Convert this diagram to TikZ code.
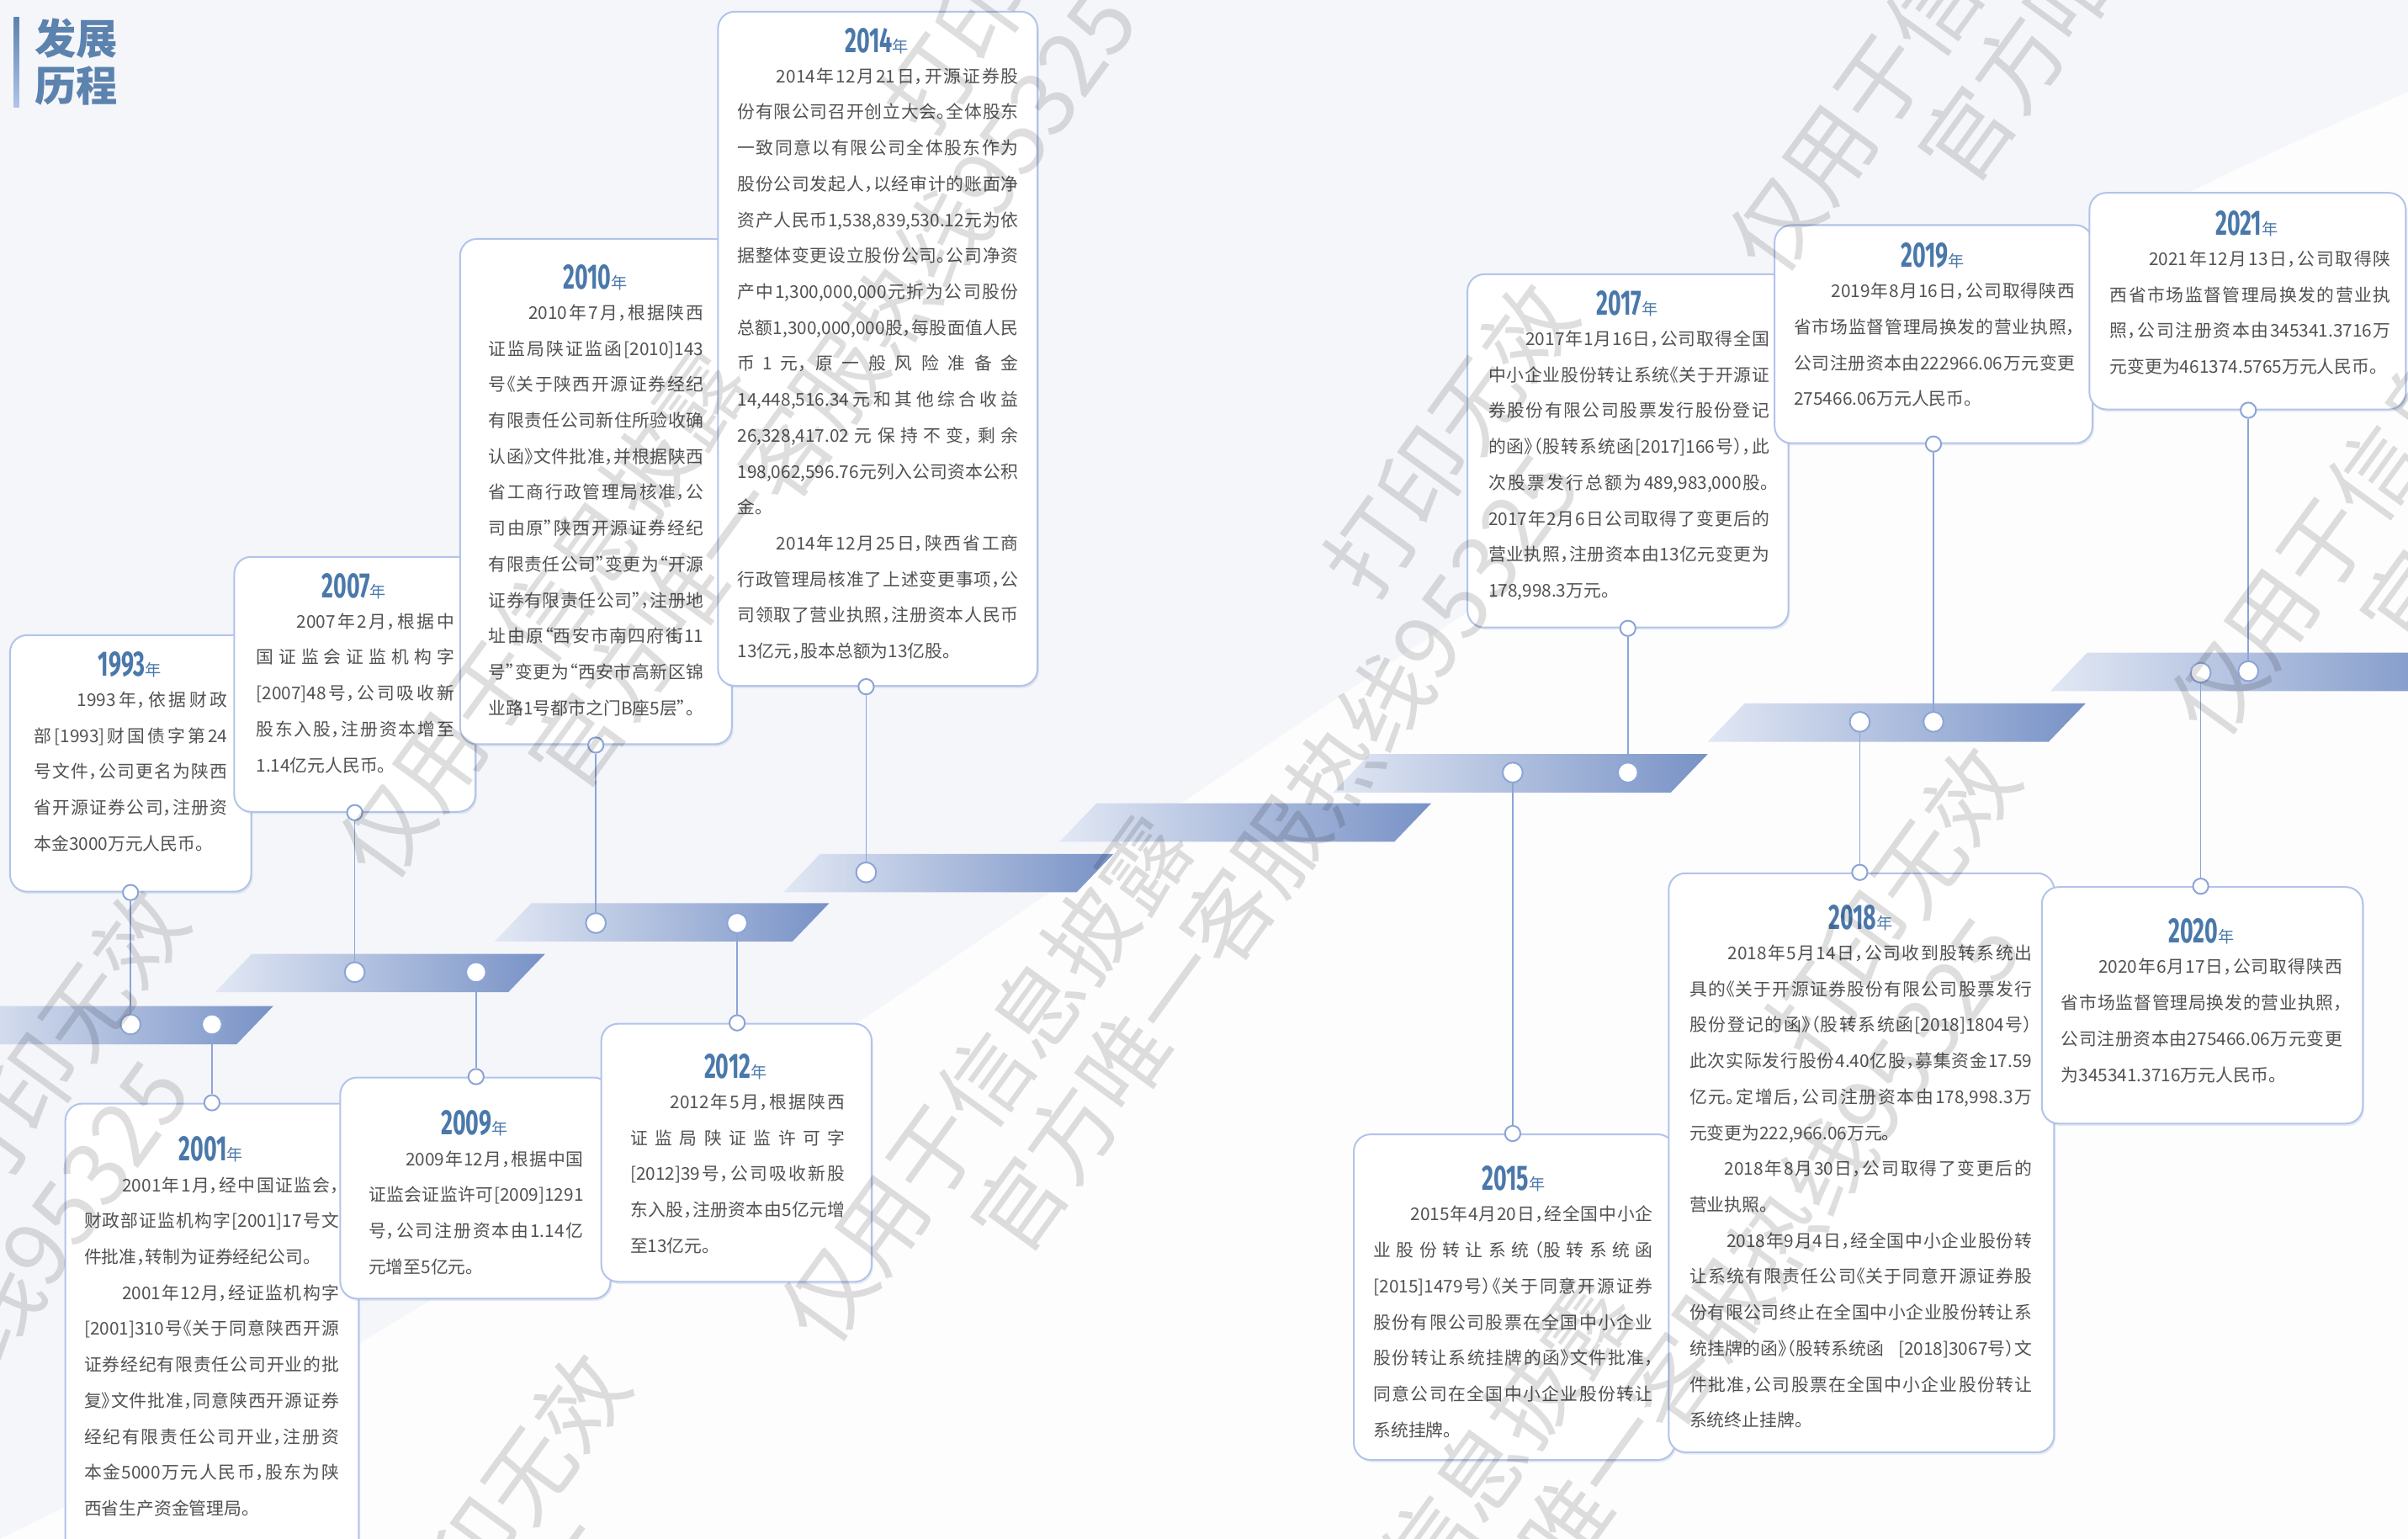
\documentclass[tikz,border=0pt]{standalone}
\usepackage{fontspec}
\setmainfont[RawFeature=+halt]{Noto Sans CJK SC}
\newfontfamily\yearfont[FakeStretch=0.64]{Fira Sans}
\newfontfamily\markfont{Noto Sans CJK SC}
\usetikzlibrary{shadows}
\XeTeXlinebreaklocale "zh"
\XeTeXlinebreakskip=0pt plus 3pt minus 1pt
\setlength\parindent{0pt}
\tolerance=9999
\emergencystretch=20pt
\hbadness=10000
\definecolor{bgtint}{RGB}{245,246,250}
\definecolor{cardline}{RGB}{178,196,234}
\definecolor{shadowblue}{RGB}{120,140,190}
\definecolor{yearblue}{RGB}{74,120,170}
\definecolor{headblue}{RGB}{92,130,174}
\definecolor{bodygray}{RGB}{82,82,82}
\definecolor{dotline}{RGB}{140,165,215}
\definecolor{ribL}{RGB}{226,232,244}
\definecolor{ribR}{RGB}{120,146,198}
\newcommand{\nianzi}{{\normalfont\fontsize{10.5}{10.5}\selectfont 年}}
\begin{document}
\begin{tikzpicture}[x=1pt, y=-1pt,
    card/.style={draw=cardline, line width=1.1pt, fill=white, rounded corners=11pt, anchor=north west, inner sep=0pt,
        drop shadow={shadow xshift=1pt, shadow yshift=-1.5pt, opacity=0.16, fill=shadowblue}},
    yr/.style={font=\yearfont\bfseries\fontsize{23}{23}\selectfont, text=yearblue, anchor=base, inner sep=0pt},
    body/.style={font=\fontsize{11.4}{23.4}\selectfont, text=bodygray, align=justify, anchor=north west, inner sep=0pt},
    tab/.style={circle, draw=dotline, fill=white, line width=1.1pt, minimum size=10pt, inner sep=0pt},
    dot/.style={tab, minimum size=13pt},
    link/.style={dotline, line width=0.9pt},
    ribbon/.style={left color=ribL, right color=ribR},
    head/.style={font=\bfseries\fontsize{27}{27}\selectfont, text=headblue, inner sep=0pt},
    wm/.style={font=\markfont\fontsize{58}{58}\selectfont, text=black, opacity=0.13, inner sep=0pt}
]
    \useasboundingbox (0,0) rectangle (1568,1002);
    \fill[bgtint] (0,0) rectangle (1568,1002);
    \fill[white, opacity=0.8] (0,1002) .. controls (500,760) and (1000,300) .. (1568,60) -- (1568,1002) -- cycle;

    % heading
    \shade[top color=headblue, bottom color=cardline] (9,11) rectangle (12.5,70);
    \node[head] (h1) at (49.5,25) {发展};
    \node[head] (h2) at (49.5,56) {历程};

    % timeline ribbon
    \foreach \xa/\xb/\yt in {-30/178/655, 140/355/621, 322/540/588, 510/725/556,
                             690/932/523, 868/1112/491, 1112/1358/458, 1335/1610/425}
        \shade[ribbon] ({\xa+24},\yt) -- (\xb,\yt) -- ({\xb-24},{\yt+25}) -- (\xa,{\yt+25}) -- cycle;

    \node[dot] (r1993) at (85,667) {};
    \node[dot] (r2001) at (138,667) {};
    \node[dot] (r2007) at (231,633) {};
    \node[dot] (r2009) at (310,633) {};
    \node[dot] (r2010) at (388,601) {};
    \node[dot] (r2012) at (480,601) {};
    \node[dot] (r2014) at (564,568) {};
    \node[dot] (r2015) at (985,503) {};
    \node[dot] (r2017) at (1060,503) {};
    \node[dot] (r2018) at (1211,470) {};
    \node[dot] (r2019) at (1259,470) {};
    \node[dot] (r2020) at (1433,438) {};
    \node[dot] (r2021) at (1464,437) {};

    % 1993
    \node[card, minimum width=157pt, minimum height=167pt] (c1993) at (6,413) {};
    \node[yr] (y1993) at (84.5,440) {1993\nianzi};
    \node[body, text width=126pt] (t1993) at (22,450) {\hspace*{2em plus 8pt}1993年，依据财政\linebreak
        部[1993]财国债字第24\linebreak
        号文件，公司更名为陕西\linebreak
        省开源证券公司，注册资\linebreak
        本金3000万元人民币。};
    \node[tab] (b1993) at (c1993.south -| r1993) {};

    % 2007
    \node[card, minimum width=157pt, minimum height=166pt] (c2007) at (152,362) {};
    \node[yr] (y2007) at (230.5,389) {2007\nianzi};
    \node[body, text width=129pt] (t2007) at (166.6,399) {\hspace*{2em plus 8pt}2007年2月，根据中\linebreak
        国证监会证监机构字\linebreak{}%
        [2007]48号，公司吸收新\linebreak
        股东入股，注册资本增至\linebreak
        1.14亿元人民币。};
    \node[tab] (b2007) at (c2007.south -| r2007) {};

    % 2010
    \node[card, minimum width=177pt, minimum height=329pt] (c2010) at (299,155) {};
    \node[yr] (y2010) at (387.5,188) {2010\nianzi};
    \node[body, text width=140pt] (t2010) at (318,198) {\hspace*{2em plus 8pt}2010年7月，根据陕西\linebreak
        证监局陕证监函[2010]143\linebreak
        号《关于陕西开源证券经纪\linebreak
        有限责任公司新住所验收确\linebreak
        认函》文件批准，并根据陕西\linebreak
        省工商行政管理局核准，公\linebreak
        司由原"陕西开源证券经纪\linebreak
        有限责任公司”变更为“开源\linebreak
        证券有限责任公司"，注册地\linebreak
        址由原“西安市南四府街11\linebreak
        号”变更为“西安市高新区锦\linebreak
        业路1号都市之门B座5层”。};
    \node[tab] (b2010) at (c2010.south -| r2010) {};

    % 2014
    \node[card, minimum width=208pt, minimum height=439pt] (c2014) at (467,7) {};
    \node[yr] (y2014) at (571,34) {2014\nianzi};
    \node[body, text width=183pt] (t2014) at (480,44) {\hspace*{2em plus 8pt}2014年12月21日，开源证券股\linebreak
        份有限公司召开创立大会。全体股东\linebreak
        一致同意以有限公司全体股东作为\linebreak
        股份公司发起人，以经审计的账面净\linebreak
        资产人民币1,538,839,530.12元为依\linebreak
        据整体变更设立股份公司。公司净资\linebreak
        产中1,300,000,000元折为公司股份\linebreak
        总额1,300,000,000股，每股面值人民\linebreak
        币 1 元，原一般风险准备金\linebreak
        14,448,516.34元和其他综合收益\linebreak
        26,328,417.02元保持不变，剩余\linebreak
        198,062,596.76元列入公司资本公积\linebreak
        金。\par
        \hspace*{2em plus 8pt}2014年12月25日，陕西省工商\linebreak
        行政管理局核准了上述变更事项，公\linebreak
        司领取了营业执照，注册资本人民币\linebreak
        13亿元，股本总额为13亿股。};
    \node[tab] (b2014) at (c2014.south -| r2014) {};

    % 2001
    \node[card, minimum width=191pt, minimum height=300pt] (c2001) at (42,718) {};
    \node[yr] (y2001) at (137.5,756) {2001\nianzi};
    \node[body, text width=166pt] (t2001) at (54.6,766) {\hspace*{2em plus 8pt}2001年1月，经中国证监会，\linebreak
        财政部证监机构字[2001]17号文\linebreak
        件批准，转制为证券经纪公司。\par
        \hspace*{2em plus 8pt}2001年12月，经证监机构字\linebreak{}%
        [2001]310号《关于同意陕西开源\linebreak
        证券经纪有限责任公司开业的批\linebreak
        复》文件批准，同意陕西开源证券\linebreak
        经纪有限责任公司开业，注册资\linebreak
        本金5000万元人民币，股东为陕\linebreak
        西省生产资金管理局。};
    \node[tab] (b2001) at (c2001.north -| r2001) {};

    % 2009
    \node[card, minimum width=176pt, minimum height=144pt] (c2009) at (221,701) {};
    \node[yr] (y2009) at (309,739) {2009\nianzi};
    \node[body, text width=140pt] (t2009) at (239.8,749) {\hspace*{2em plus 8pt}2009年12月，根据中国\linebreak
        证监会证监许可[2009]1291\linebreak
        号，公司注册资本由1.14亿\linebreak
        元增至5亿元。};
    \node[tab] (b2009) at (c2009.north -| r2009) {};

    % 2012
    \node[card, minimum width=176pt, minimum height=168pt] (c2012) at (391,666) {};
    \node[yr] (y2012) at (479,702) {2012\nianzi};
    \node[body, text width=140pt] (t2012) at (410.2,712) {\hspace*{2em plus 8pt}2012年5月，根据陕西\linebreak
        证监局陕证监许可字\linebreak{}%
        [2012]39号，公司吸收新股\linebreak
        东入股，注册资本由5亿元增\linebreak
        至13亿元。};
    \node[tab] (b2012) at (c2012.north -| r2012) {};

    % 2017
    \node[card, minimum width=209pt, minimum height=230pt] (c2017) at (955,178) {};
    \node[yr] (y2017) at (1059.5,205) {2017\nianzi};
    \node[body, text width=183pt] (t2017) at (969,215) {\hspace*{2em plus 8pt}2017年1月16日，公司取得全国\linebreak
        中小企业股份转让系统《关于开源证\linebreak
        券股份有限公司股票发行股份登记\linebreak
        的函》（股转系统函[2017]166号），此\linebreak
        次股票发行总额为489,983,000股。\linebreak
        2017年2月6日公司取得了变更后的\linebreak
        营业执照，注册资本由13亿元变更为\linebreak
        178,998.3万元。};
    \node[tab] (b2017) at (c2017.south -| r2017) {};

    % 2019
    \node[card, minimum width=207pt, minimum height=142pt] (c2019) at (1155,146) {};
    \node[yr] (y2019) at (1258.5,174) {2019\nianzi};
    \node[body, text width=183pt] (t2019) at (1168,184) {\hspace*{2em plus 8pt}2019年8月16日，公司取得陕西\linebreak
        省市场监督管理局换发的营业执照，\linebreak
        公司注册资本由222966.06万元变更\linebreak
        275466.06万元人民币。};
    \node[tab] (b2019) at (c2019.south -| r2019) {};

    % 2021
    \node[card, minimum width=206pt, minimum height=141pt] (c2021) at (1360,125) {};
    \node[yr] (y2021) at (1463,153) {2021\nianzi};
    \node[body, text width=183pt] (t2021) at (1373.7,163) {\hspace*{2em plus 8pt}2021年12月13日，公司取得陕\linebreak
        西省市场监督管理局换发的营业执\linebreak
        照，公司注册资本由345341.3716万\linebreak
        元变更为461374.5765万元人民币。};
    \node[tab] (b2021) at (c2021.south -| r2021) {};

    % 2015
    \node[card, minimum width=209pt, minimum height=212pt] (c2015) at (881,738) {};
    \node[yr] (y2015) at (985.5,775) {2015\nianzi};
    \node[body, text width=182pt] (t2015) at (894.2,785) {\hspace*{2em plus 8pt}2015年4月20日，经全国中小企\linebreak
        业股份转让系统（股转系统函\linebreak{}%
        [2015]1479号）《关于同意开源证券\linebreak
        股份有限公司股票在全国中小企业\linebreak
        股份转让系统挂牌的函》文件批准，\linebreak
        同意公司在全国中小企业股份转让\linebreak
        系统挂牌。};
    \node[tab] (b2015) at (c2015.north -| r2015) {};

    % 2018
    \node[card, minimum width=251pt, minimum height=377pt] (c2018) at (1086,568) {};
    \node[yr] (y2018) at (1211.5,605) {2018\nianzi};
    \node[body, text width=223pt] (t2018) at (1100,615) {\hspace*{2em plus 8pt}2018年5月14日，公司收到股转系统出\linebreak
        具的《关于开源证券股份有限公司股票发行\linebreak
        股份登记的函》（股转系统函[2018]1804号）\linebreak
        此次实际发行股份4.40亿股，募集资金17.59\linebreak
        亿元。定增后，公司注册资本由178,998.3万\linebreak
        元变更为222,966.06万元。\par
        \hspace*{2em}2018年8月30日，公司取得了变更后的\linebreak
        营业执照。\par
        \hspace*{2em plus 8pt}2018年9月4日，经全国中小企业股份转\linebreak
        让系统有限责任公司《关于同意开源证券股\linebreak
        份有限公司终止在全国中小企业股份转让系\linebreak
        统挂牌的函》（股转系统函\hspace{0.8em}[2018]3067号）文\linebreak
        件批准，公司股票在全国中小企业股份转让\linebreak
        系统终止挂牌。};
    \node[tab] (b2018) at (c2018.north -| r2018) {};

    % 2020
    \node[card, minimum width=209pt, minimum height=154pt] (c2020) at (1329,577) {};
    \node[yr] (y2020) at (1433.5,614) {2020\nianzi};
    \node[body, text width=183pt] (t2020) at (1342,624) {\hspace*{2em plus 8pt}2020年6月17日，公司取得陕西\linebreak
        省市场监督管理局换发的营业执照，\linebreak
        公司注册资本由275466.06万元变更\linebreak
        为345341.3716万元人民币。};
    \node[tab] (b2020) at (c2020.north -| r2020) {};

    \foreach \n in {1993,2001,2007,2009,2010,2012,2014,2015,2017,2018,2019,2020,2021}
        \draw[link] (b\n) -- (r\n);

    % watermark
    \foreach \wx/\wy [count=\i] in {-365/1275, 540/880, 1445/485, -77/1577, 828/1182, 252/578, 1157/183}
    {
        \begin{scope}[shift={(\wx,\wy)}, rotate=54, transform shape]
            \node[wm, anchor=base west] (wa\i) at (0,0) {仅用于信息披露};
            \node[wm, anchor=base east] (wb\i) at (834,0) {打印无效};
            \node[wm, anchor=base west] (wc\i) at (120,66) {官方唯一客服热线95325};
        \end{scope}
    }
\end{tikzpicture}
\end{document}
